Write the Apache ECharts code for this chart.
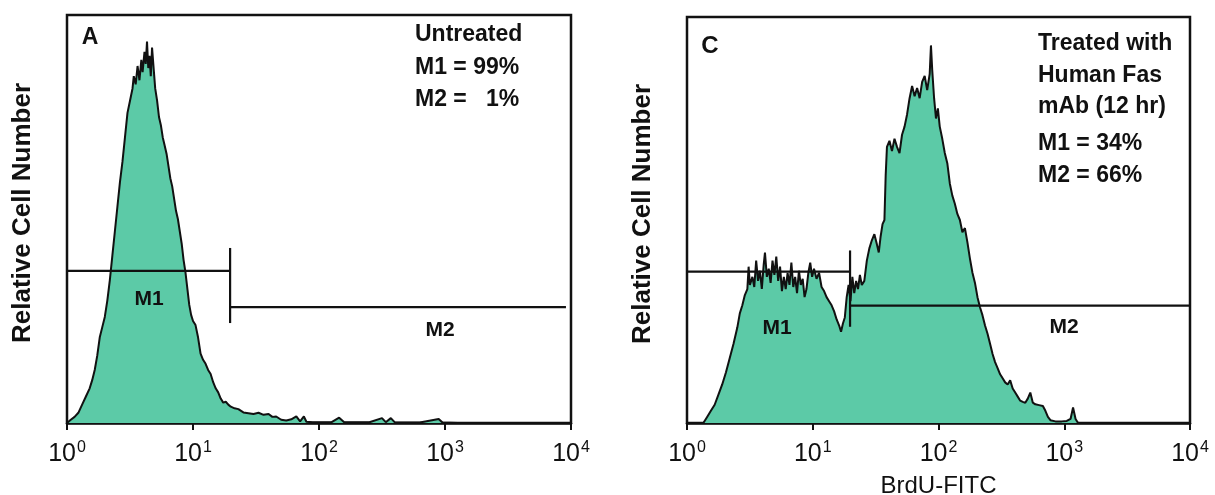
<!DOCTYPE html>
<html>
<head>
<meta charset="utf-8">
<script src="https://cdn.jsdelivr.net/npm/echarts@6/dist/echarts.min.js"></script>
<style>
  html, body { margin: 0; background: #fff; }
  #chart { width: 1215px; height: 495px; }
</style>
</head>
<body>
<div id="chart"></div>
<script>
// x positions are in decades (log10 of BrdU-FITC), counts are relative (0-100 = frame height)
var untreatedDecade = [0.00, 0.03, 0.06, 0.09, 0.12, 0.15, 0.18, 0.20, 0.22, 0.24, 0.26, 0.28, 0.30, 0.32, 0.34, 0.36, 0.38, 0.40, 0.42, 0.44,
  0.46, 0.48, 0.50, 0.52, 0.53, 0.545, 0.56, 0.575, 0.59, 0.60, 0.615, 0.625, 0.635, 0.645, 0.655, 0.665, 0.675, 0.69, 0.70, 0.715,
  0.73, 0.745, 0.76, 0.775, 0.79, 0.805, 0.82, 0.835, 0.85, 0.865, 0.88, 0.895, 0.91, 0.925, 0.94, 0.955, 0.97, 0.985, 1.00, 1.02,
  1.04, 1.06, 1.08, 1.10, 1.12, 1.14, 1.16, 1.18, 1.20, 1.22, 1.24, 1.26, 1.28, 1.30, 1.33, 1.36, 1.40, 1.44, 1.48, 1.52,
  1.56, 1.60, 1.63, 1.66, 1.70, 1.74, 1.78, 1.82, 1.85, 1.88, 1.90, 1.95, 2.00, 2.10, 2.16, 2.20, 2.40, 2.50, 2.53, 2.57,
  2.60, 2.80, 2.95, 2.98, 3.10, 4.00];
var untreatedCount = [0, 0.8, 1.5, 2.5, 4.5, 6.5, 8.5, 10.5, 13, 16.5, 21, 23.5, 26, 30, 35, 41, 47, 53, 59, 64,
  70, 76, 79, 82, 85, 83, 87.5, 84, 89, 86, 91, 88, 93.5, 87, 90, 85, 92, 86, 82, 79,
  75, 73, 70, 68, 66, 63, 60, 58, 55, 52, 50, 47, 44, 40, 37, 33, 29, 26.5, 25, 24,
  21, 17, 15.5, 14.5, 13, 12, 10, 8.5, 7.5, 6, 5, 5.2, 4.5, 4, 3.6, 3.4, 2.6, 2.4, 2.2, 2.5,
  2.0, 2.2, 1.5, 1.6, 0.8, 0.6, 0.9, 1.6, 0.4, 1.6, 0.3, 0.2, 0.2, 0.2, 1.3, 0.2, 0.2, 1.2, 0.2, 1.2,
  0.2, 0.1, 1.0, 0.1, 0, 0];

var treatedDecade = [0.13, 0.16, 0.19, 0.22, 0.25, 0.28, 0.31, 0.34, 0.37, 0.40, 0.42, 0.44, 0.46, 0.48, 0.49, 0.50, 0.52, 0.535, 0.55, 0.565,
  0.58, 0.595, 0.61, 0.62, 0.635, 0.65, 0.665, 0.68, 0.695, 0.71, 0.725, 0.74, 0.755, 0.77, 0.785, 0.80, 0.815, 0.83, 0.845, 0.86,
  0.875, 0.89, 0.905, 0.92, 0.935, 0.95, 0.965, 0.98, 0.995, 1.01, 1.03, 1.05, 1.07, 1.09, 1.11, 1.13, 1.15, 1.17, 1.19, 1.21,
  1.225, 1.24, 1.255, 1.27, 1.285, 1.30, 1.315, 1.33, 1.345, 1.36, 1.375, 1.39, 1.41, 1.43, 1.45, 1.47, 1.49, 1.51, 1.525, 1.54,
  1.555, 1.57, 1.58, 1.59, 1.61, 1.63, 1.65, 1.67, 1.69, 1.71, 1.73, 1.75, 1.77, 1.79, 1.81, 1.83, 1.85, 1.87, 1.89, 1.91,
  1.93, 1.94, 1.95, 1.965, 1.98, 1.995, 2.01, 2.03, 2.05, 2.07, 2.09, 2.11, 2.13, 2.15, 2.17, 2.19, 2.21, 2.23, 2.25, 2.27,
  2.29, 2.31, 2.33, 2.35, 2.37, 2.39, 2.41, 2.43, 2.45, 2.47, 2.49, 2.51, 2.53, 2.55, 2.57, 2.59, 2.61, 2.63, 2.65, 2.67,
  2.69, 2.71, 2.73, 2.75, 2.77, 2.80, 2.83, 2.85, 2.87, 2.89, 2.93, 2.98, 3.02, 3.05, 3.07, 3.09, 3.11, 4.00];
var treatedCount = [0, 1.5, 3, 4.5, 7, 9.5, 12.5, 16, 19.5, 23.5, 27, 29, 31.5, 33, 38.5, 34, 36, 33.5, 40, 35,
  37.5, 33, 39, 42, 36, 38, 34.5, 40, 36.5, 41, 35, 38.5, 32.5, 36, 33, 37, 34, 39.5, 33.5, 36,
  32, 37.5, 34, 35.5, 31, 33, 37, 39.5, 36, 38, 35.5, 37, 33.5, 32.5, 31, 30, 29, 27.5, 25.5, 24,
  22.5, 24.5, 26, 31, 34, 30, 36, 32, 35, 33, 36.5, 34, 35, 40, 43, 45, 46.5, 44, 42, 46,
  49, 50, 61, 68, 69.5, 67, 70, 68, 66.5, 71, 73, 76, 80, 83, 80.5, 82.5, 80, 84, 85.5, 82,
  86, 93, 87, 80, 75, 77.5, 73, 70, 66.5, 64, 59, 56, 54, 51.5, 50, 47, 48, 44.5, 40.5, 37,
  34.5, 31, 28.5, 26.5, 24, 22, 19.5, 17, 15, 13.5, 12, 11, 10, 9.5, 10.5, 8.5, 7.5, 6.5, 5.5, 5.2,
  5, 6, 7.5, 5, 4.6, 4.4, 4.2, 3, 1.5, 0.7, 0.4, 0.4, 0.5, 1, 3.8, 1, 0, 0];

// gate markers: [gate edge (FITC), M1 level, M2 level, marker top, marker bottom, M2 end (FITC)]
var gateA = [19.7, 37.3, 28.4, 42.9, 24.5, 9120];
var gateC = [19.8, 37.3, 28.9, 42.5, 23.7, 10000];

var tickExponents = [0, 1, 2, 3, 4];
var untreatedNotes = ['Untreated', 'M1 = 99%', 'M2 =   1%'];
var treatedNotes = ['Treated with', 'Human Fas', 'mAb (12 hr)', 'M1 = 34%', 'M2 = 66%'];

var chart = echarts.init(document.getElementById('chart'));
var boldFont = 'Liberation Sans';
var tickFont = "'Liberation Sans Narrow', 'Liberation Sans'";

function toPairs(decades, counts) {
  var out = [];
  for (var i = 0; i < decades.length; i++) {
    out.push([Math.pow(10, decades[i]), counts[i]]);
  }
  return out;
}

function makeX(idx, name) {
  return {
    type: 'log', logBase: 10, gridIndex: idx,
    min: 1, max: 10000, interval: 1,
    name: name || '', nameLocation: 'middle', nameGap: 51,
    nameTextStyle: { fontFamily: boldFont, fontSize: 24, color: '#111' },
    axisLine: { show: true, lineStyle: { color: '#111', width: 2.5 } },
    axisTick: { show: true, inside: false, length: 7, lineStyle: { color: '#111', width: 2 } },
    splitLine: { show: false },
    minorTick: { show: false },
    axisLabel: {
      margin: 17,
      fontFamily: tickFont, fontSize: 25, color: '#111',
      formatter: function (v) {
        var e = Math.round(Math.log(v) / Math.LN10);
        if (tickExponents.indexOf(e) < 0) return '';
        return '10{s|' + e + '}';
      },
      rich: { s: { fontFamily: tickFont, fontSize: 16, color: '#111', padding: [0, 0, 12, 1] } }
    }
  };
}

function makeY(idx) {
  return {
    type: 'value', gridIndex: idx, min: 0, max: 100,
    name: 'Relative Cell Number', nameLocation: 'middle', nameGap: 31,
    nameTextStyle: { fontFamily: boldFont, fontWeight: 'bold', fontSize: 26, color: '#111', padding: [0, 0, 0, 12] },
    axisLine: { show: false }, axisTick: { show: false },
    axisLabel: { show: false }, splitLine: { show: false }
  };
}

function histSeries(idx, data) {
  return {
    type: 'line', xAxisIndex: idx, yAxisIndex: idx, data: data,
    symbol: 'none', silent: true, z: 2,
    lineStyle: { color: '#111', width: 2 },
    areaStyle: { color: '#5ccaa7', opacity: 1 }
  };
}

function gateSeries(idx, g) {
  var base = {
    type: 'line', xAxisIndex: idx, yAxisIndex: idx, symbol: 'none', silent: true, z: 4,
    lineStyle: { color: '#111', width: 2.2 }
  };
  return [
    Object.assign({}, base, { data: [[1, g[1]], [g[0], g[1]]] }),
    Object.assign({}, base, { data: [[g[0], g[3]], [g[0], g[4]]] }),
    Object.assign({}, base, { data: [[g[0], g[2]], [g[5], g[2]]] })
  ];
}

function txt(x, y, s, size, align) {
  return {
    type: 'text', x: x, y: y, z: 10,
    style: {
      text: s, fill: '#111', align: align || 'left', verticalAlign: 'middle',
      font: 'bold ' + size + 'px ' + boldFont
    }
  };
}

var graphics = [
  txt(90, 38, 'A', 23, 'center'),
  txt(710, 46, 'C', 24, 'center'),
  txt(149, 299, 'M1', 21, 'center'),
  txt(440, 330, 'M2', 21, 'center'),
  txt(777, 328, 'M1', 21, 'center'),
  txt(1064, 327, 'M2', 21, 'center')
];
var aY = [35, 68, 100];
untreatedNotes.forEach(function (s, i) { graphics.push(txt(415, aY[i], s, 23)); });
var cY = [44, 76, 107, 144, 176];
treatedNotes.forEach(function (s, i) { graphics.push(txt(1038, cY[i], s, 23)); });

var option = {
  backgroundColor: '#fff',
  animation: false,
  grid: [
    { left: 67, top: 15, width: 504, height: 408, outerBoundsMode: 'none', containLabel: false,
      show: true, borderColor: '#111', borderWidth: 2.5, backgroundColor: 'transparent' },
    { left: 687, top: 17, width: 503, height: 406, outerBoundsMode: 'none', containLabel: false,
      show: true, borderColor: '#111', borderWidth: 2.5, backgroundColor: 'transparent' }
  ],
  xAxis: [makeX(0), makeX(1, 'BrdU-FITC')],
  yAxis: [makeY(0), makeY(1)],
  series: [histSeries(0, toPairs(untreatedDecade, untreatedCount)),
           histSeries(1, toPairs(treatedDecade, treatedCount))]
    .concat(gateSeries(0, gateA))
    .concat(gateSeries(1, gateC)),
  graphic: graphics
};

chart.setOption(option);
</script>
</body>
</html>
